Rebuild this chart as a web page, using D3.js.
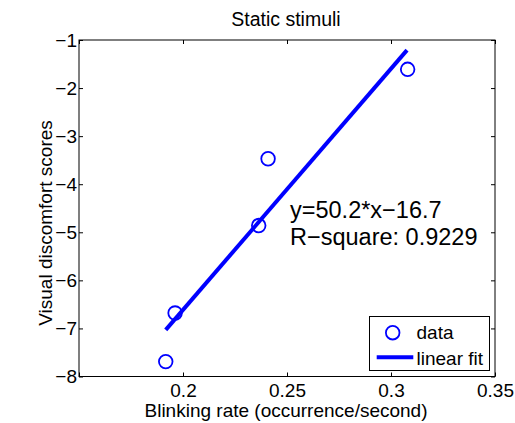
<!DOCTYPE html>
<html><head><meta charset="utf-8">
<script src="https://cdn.jsdelivr.net/npm/d3@7"></script>
<style>
html,body{margin:0;padding:0;background:#fff;}
text{font-family:"Liberation Sans",Arial,Helvetica,sans-serif;fill:#000;}
</style></head>
<body><svg id="c" width="515" height="423"></svg>
<script>
const blinkRate = [0.1917, 0.1962, 0.2364, 0.2409, 0.3080];
const discomfort = [-7.69, -6.68, -4.86, -3.47, -1.61];
const fitX = [0.1917, 0.3077];
const fitY = [-7.03, -1.21];
const xTicks = [0.15, 0.2, 0.25, 0.3, 0.35];
const xTickLabels = ["", "0.2", "0.25", "0.3", "0.35"];
const yTicks = [-8, -7, -6, -5, -4, -3, -2, -1];
const annotation = ["y=50.2*x\u221216.7", "R\u2212square: 0.9229"];
const legendLabels = ["data", "linear fit"];

const svg = d3.select("#c");
const L = 79, R = 495, T = 40, B = 376.5;
const x = d3.scaleLinear().domain([0.15, 0.35]).range([L, R]);
const y = d3.scaleLinear().domain([-8, -1]).range([B, T]);
const blue = "#0000ff";
const fs = "19px";
const fmtY = d => (d < 0 ? "\u2212" + Math.abs(d) : String(d));

// box
svg.append("rect").attr("x", L).attr("y", T).attr("width", R - L).attr("height", B - T)
  .attr("fill", "none").attr("stroke", "#000").attr("stroke-width", 1);

// axes
const xb = svg.append("g").attr("transform", `translate(0,${B})`)
  .call(d3.axisBottom(x).tickValues(xTicks).tickSizeInner(-4).tickSizeOuter(0)
    .tickFormat((d, i) => xTickLabels[i]));
const xt = svg.append("g").attr("transform", `translate(0,${T})`)
  .call(d3.axisTop(x).tickValues(xTicks).tickSizeInner(-4).tickSizeOuter(0).tickFormat(""));
const yl = svg.append("g").attr("transform", `translate(${L},0)`)
  .call(d3.axisLeft(y).tickValues(yTicks).tickSizeInner(-4).tickSizeOuter(0)
    .tickPadding(2).tickFormat(fmtY));
const yr = svg.append("g").attr("transform", `translate(${R},0)`)
  .call(d3.axisRight(y).tickValues(yTicks).tickSizeInner(-4).tickSizeOuter(0).tickFormat(""));
[xb, xt, yl, yr].forEach(g => {
  g.select(".domain").remove();
  g.selectAll("line").attr("stroke", "#000");
  g.selectAll("text").style("font-size", fs).attr("fill", "#000")
    .style("font-family", '"Liberation Sans",Arial,sans-serif');
});
xb.selectAll("text").attr("y", 20.5).attr("dy", 0);

// fit line
svg.append("path")
  .datum(fitX.map((v, i) => [v, fitY[i]]))
  .attr("d", d3.line().x(d => x(d[0])).y(d => y(d[1])))
  .attr("stroke", blue).attr("stroke-width", 4).attr("fill", "none");

// data circles
svg.selectAll("circle.pt").data(blinkRate.map((v, i) => [v, discomfort[i]]))
  .enter().append("circle").attr("class", "pt")
  .attr("cx", d => x(d[0])).attr("cy", d => y(d[1])).attr("r", 6.8)
  .attr("fill", "none").attr("stroke", blue).attr("stroke-width", 1.8);

// annotation
svg.selectAll("text.ann").data(annotation).enter().append("text").attr("class", "ann")
  .attr("x", 290).attr("y", (d, i) => 218 + i * 27)
  .style("font-size", "23.5px").text(d => d);

// title & labels
svg.append("text").attr("x", (L + R) / 2 - 1).attr("y", 26).attr("text-anchor", "middle")
  .style("font-size", "19.5px").text("Static stimuli");
svg.append("text").attr("x", (L + R) / 2 - 1).attr("y", 417).attr("text-anchor", "middle")
  .style("font-size", fs).text("Blinking rate (occurrence/second)");
svg.append("text").attr("transform", "translate(52,223) rotate(-90)").attr("text-anchor", "middle")
  .style("font-size", fs).text("Visual discomfort scores");

// legend
const lg = svg.append("g");
lg.append("rect").attr("x", 369.5).attr("y", 316.5).attr("width", 120).attr("height", 54)
  .attr("fill", "#fff").attr("stroke", "#000").attr("stroke-width", 1);
lg.append("circle").attr("cx", 392.7).attr("cy", 332.7).attr("r", 6.8)
  .attr("fill", "none").attr("stroke", blue).attr("stroke-width", 1.8);
lg.append("line").attr("x1", 376.7).attr("x2", 413.3).attr("y1", 357.3).attr("y2", 357.3)
  .attr("stroke", blue).attr("stroke-width", 4);
lg.selectAll("text").data(legendLabels).enter().append("text")
  .attr("x", 416.5).attr("y", (d, i) => 339 + i * 26).style("font-size", fs).text(d => d);
</script></body></html>
